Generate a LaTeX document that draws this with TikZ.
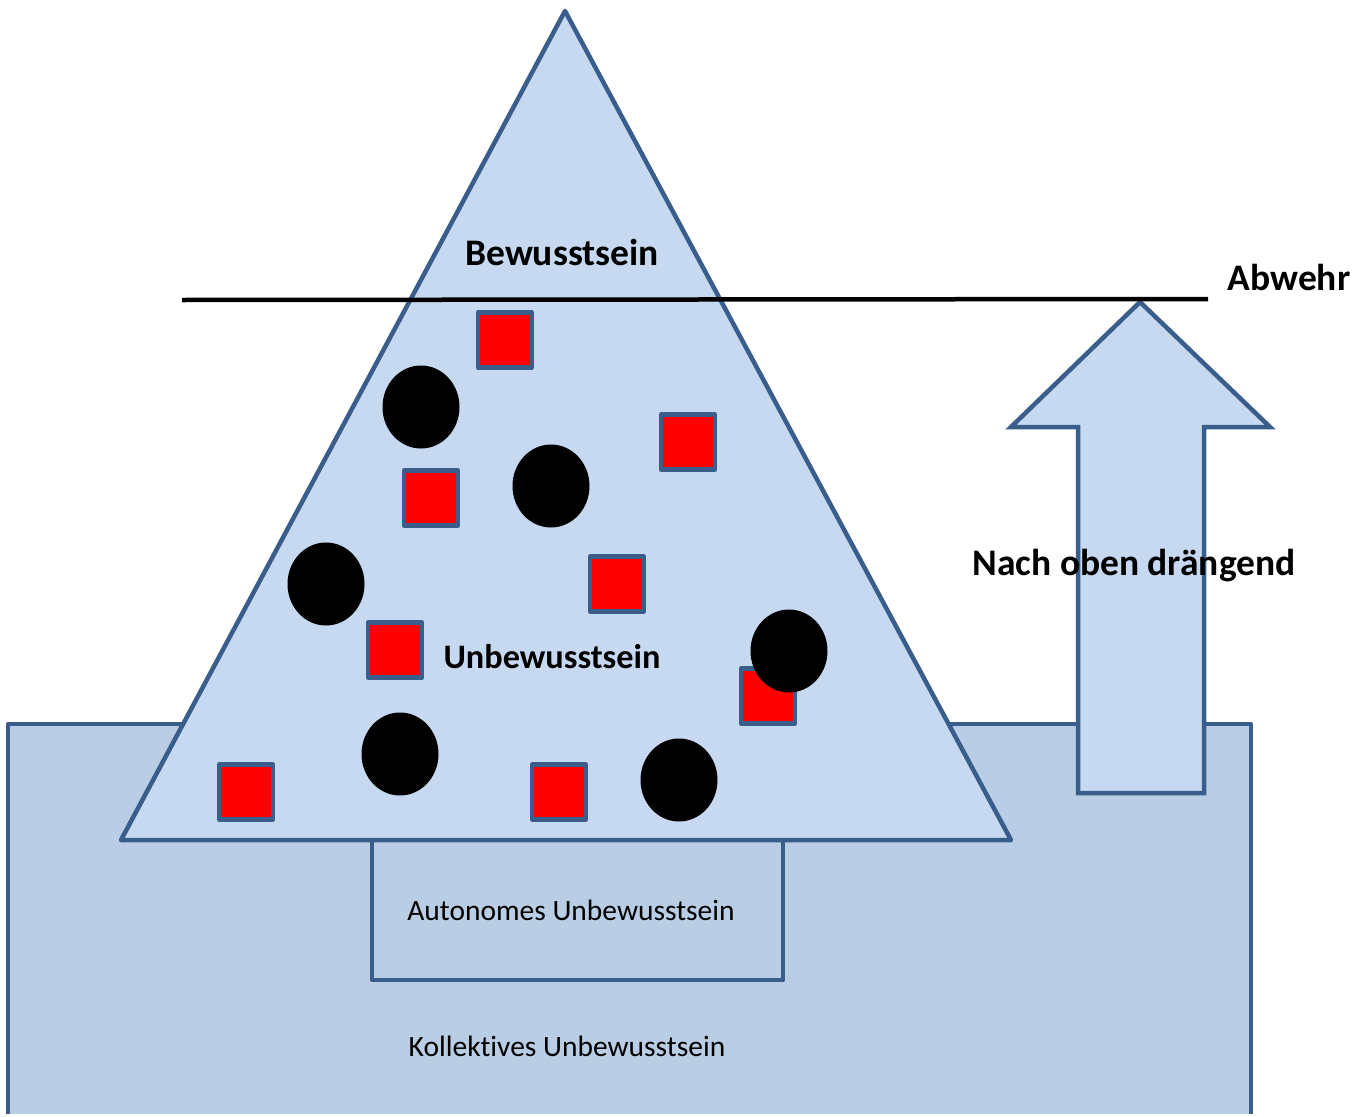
\documentclass[tikz,border=0pt]{standalone}
\usepackage{fontspec}
\setmainfont[Ligatures=NoCommon]{Carlito}
\usetikzlibrary{shapes.geometric}
\definecolor{bordc}{HTML}{3A5E8C}
\definecolor{trifill}{HTML}{C6D9F1}
\definecolor{basefill}{HTML}{B9CDE5}
\begin{document}
\begin{tikzpicture}[x=1pt,y=-1pt,
  outl/.style={draw=bordc,line width=4.5pt,line join=round},
  redsq/.style={outl,fill=red,minimum width=54pt,minimum height=55pt,inner sep=0pt,line width=4.5pt},
  blob/.style={fill=black,ellipse,minimum width=77pt,minimum height=83pt,inner sep=0pt},
  boldlbl/.style={font=\fontsize{37.5}{42}\selectfont\bfseries,inner sep=0pt},
  normlbl/.style={font=\fontsize{29.5}{34}\selectfont,inner sep=0pt}
]
\useasboundingbox (0,0) rectangle (1362,1116);
% collective base
\draw[outl,fill=basefill] (8,1114) -- (8,724) -- (1251,724) -- (1251,1114);
% autonomous box
\draw[outl,fill=basefill] (372,840) rectangle (783,980);
% triangle
\draw[outl,fill=trifill] (565,11) -- (1011,840) -- (121,840) -- cycle;
% arrow
\draw[outl,fill=trifill,line join=miter] (1140,302) -- (1270,427) -- (1204,427) -- (1204,793) -- (1078,793) -- (1078,427) -- (1011,427) -- cycle;
% defence line
\coordinate (l1) at (182,300);
\coordinate (l2) at (1208,299);
\draw[line width=4.5pt] (l1) -- (l2);
% texts
\node[boldlbl] (bew) at (562,252) {Bewusstsein};
\node[boldlbl] (abw) at (1289,277) {Abwehr};
\node[boldlbl,font=\fontsize{34.3}{40}\selectfont\bfseries] (unb) at (552,657) {Unbewusstsein};
\node[boldlbl] (nach) at (1134,566) {Nach oben drängend};
\node[normlbl] (auto) at (571,910) {Autonomes Unbewusstsein};
\node[normlbl] (koll) at (567,1046) {Kollektives Unbewusstsein};
% squares
\node[redsq] (s1) at (505,340) {};
\node[redsq] (s2) at (688,442) {};
\node[redsq] (s3) at (431,498) {};
\node[redsq] (s4) at (617,584) {};
\node[redsq] (s5) at (395,650) {};
\node[redsq] (s6) at (768,696) {};
\node[redsq] (s7) at (246,792) {};
\node[redsq] (s8) at (559,792) {};
% circles
\node[blob] (c1) at (421,407) {};
\node[blob] (c2) at (551,486) {};
\node[blob] (c3) at (326,584) {};
\node[blob] (c4) at (789,651) {};
\node[blob] (c5) at (400,754) {};
\node[blob] (c6) at (679,780) {};
\end{tikzpicture}
\end{document}
